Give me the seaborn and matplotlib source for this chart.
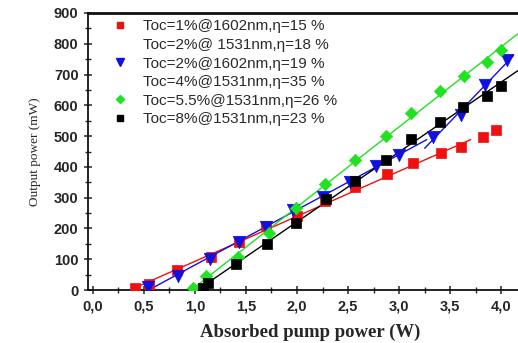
import numpy as np
import pandas as pd
import seaborn as sns
import matplotlib.pyplot as plt
from matplotlib.lines import Line2D
from matplotlib.ticker import MultipleLocator, FuncFormatter

# --- data ---
red_x = [0.41, 0.55, 0.83, 1.16, 1.43, 1.70, 2.00, 2.27, 2.57, 2.88, 3.14, 3.41, 3.61, 3.82, 3.95]
red_y = [5, 19, 65, 106, 157, 208, 240, 290, 334, 376, 412, 444, 465, 498, 520]

blue_x = [0.54, 0.84, 1.15, 1.43, 1.70, 1.96, 2.25, 2.52, 2.77, 3.00, 3.33, 3.61, 3.84, 4.06]
blue_y = [9, 47, 101, 155, 205, 260, 303, 352, 404, 439, 498, 569, 666, 747]

green_x = [0.98, 1.11, 1.42, 1.73, 1.99, 2.27, 2.57, 2.87, 3.12, 3.40, 3.63, 3.86, 4.00]
green_y = [7, 46, 106, 184, 265, 345, 422, 500, 574, 648, 695, 742, 780]

black_x = [1.08, 1.13, 1.40, 1.71, 1.99, 2.28, 2.57, 2.87, 3.12, 3.40, 3.62, 3.86, 4.00]
black_y = [5, 22, 84, 149, 219, 295, 355, 424, 490, 547, 593, 630, 663]

legend_labels = [
    "Toc=1%@1602nm,\u03b7=15 %",
    "Toc=2%@ 1531nm,\u03b7=18 %",
    "Toc=2%@1602nm,\u03b7=19 %",
    "Toc=4%@1531nm,\u03b7=35 %",
    "Toc=5.5%@1531nm,\u03b7=26 %",
    "Toc=8%@1531nm,\u03b7=23 %",
]

RED, BLUE, GREEN, BLACK = "#f01010", "#1010e0", "#22e022", "#000000"

sns.set_style("ticks")
plt.rcParams["font.family"] = ["Liberation Sans", "DejaVu Sans"]

fig = plt.figure(figsize=(5.18, 3.43), dpi=100)
# axes runs off the right edge like in the reference crop
ax = fig.add_axes([0.169, 0.1545, 0.858, 0.8076])


def fit_line(xs, ys, x_start, x_end, color):
    k, b = np.polyfit(xs, ys, 1)
    if x_start is None:
        x_start = -b / k
    xx = np.linspace(x_start, x_end, 50)
    df = pd.DataFrame({"x": xx, "y": k * xx + b})
    sns.lineplot(data=df, x="x", y="y", color=color, lw=1.0, ax=ax, zorder=2)


# fitted lines
fit_line(red_x, red_y, None, 3.7, RED)
fit_line(blue_x[:10], blue_y[:10], None, 3.27, BLUE)
fit_line(blue_x[10:], blue_y[10:], 3.25, 4.12, BLUE)
fit_line(green_x, green_y, None, 4.35, GREEN)
fit_line(black_x, black_y, None, 4.35, BLACK)

# markers
series = [
    (red_x, red_y, RED, "s", 42),
    (blue_x, blue_y, BLUE, "v", 80),
    (green_x, green_y, GREEN, "D", 40),
    (black_x, black_y, BLACK, "s", 42),
]
for xs, ys, c, m, s in series:
    sns.scatterplot(x=xs, y=ys, color=c, marker=m, s=s, edgecolor=c, linewidth=0.5, ax=ax, zorder=3)

ax.set_xlim(-0.05, 4.3)
ax.set_ylim(0, 900)
ax.xaxis.set_major_locator(MultipleLocator(0.5))
ax.xaxis.set_minor_locator(MultipleLocator(0.25))
ax.yaxis.set_major_locator(MultipleLocator(100))
ax.yaxis.set_minor_locator(MultipleLocator(50))
ax.xaxis.set_major_formatter(FuncFormatter(lambda v, p: f"{v:.1f}".replace(".", ",")))

ax.tick_params(which="major", direction="inout", length=6, width=1.1, labelsize=10.5)
ax.tick_params(which="minor", direction="inout", length=4, width=1.0)
for lab in ax.get_xticklabels() + ax.get_yticklabels():
    lab.set_fontweight("bold")

for side in ["left", "bottom", "top"]:
    ax.spines[side].set_linewidth(1.3)
    ax.spines[side].set_color("#111111")
ax.spines["top"].set_linewidth(2)
ax.spines["right"].set_visible(False)

ax.set_xlabel("Absorbed pump power (W)", fontfamily="Liberation Serif",
              fontweight="bold", fontsize=13.5, labelpad=8)
ax.set_ylabel("Output power (mW)", fontfamily="Liberation Serif",
              fontsize=9.5, labelpad=9)

# legend: two entries have no visible handle
handles = [
    Line2D([], [], ls="none", marker="s", color=RED, markersize=4.5),
    Line2D([], [], ls="none"),
    Line2D([], [], ls="none", marker="v", color=BLUE, markersize=5.5),
    Line2D([], [], ls="none"),
    Line2D([], [], ls="none", marker="D", color=GREEN, markersize=4.5),
    Line2D([], [], ls="none", marker="s", color=BLACK, markersize=4.5),
]
leg = ax.legend(handles, legend_labels, loc="upper left", bbox_to_anchor=(0.035, 1.01),
                frameon=False, fontsize=11, handlelength=1.0, handletextpad=1.0,
                labelspacing=0.3, borderaxespad=0.2)
for t in leg.get_texts():
    t.set_color("#2a2a2a")

fig.savefig("out.png", dpi=100)
